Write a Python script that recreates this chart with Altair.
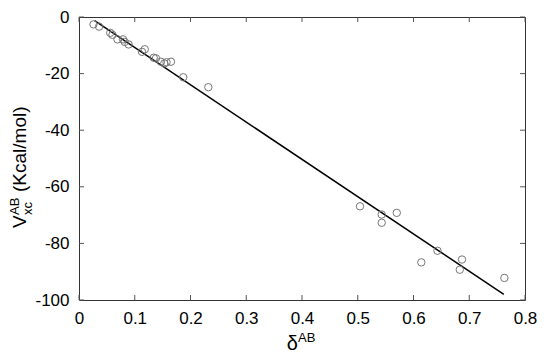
import altair as alt
import pandas as pd

# Scatter data: delta^AB vs V_xc^AB (Kcal/mol)
delta_ab = [0.026, 0.036, 0.056, 0.060, 0.069, 0.079, 0.082, 0.089, 0.113, 0.118,
            0.134, 0.138, 0.147, 0.153, 0.157, 0.165, 0.187, 0.232,
            0.504, 0.543, 0.543, 0.570, 0.614, 0.643, 0.683, 0.687, 0.763]
vxc_ab = [-2.6, -3.4, -5.6, -6.3, -7.9, -7.9, -8.8, -9.7, -12.3, -11.4,
          -14.4, -14.6, -15.8, -16.4, -16.0, -15.8, -21.3, -24.8,
          -66.9, -69.8, -72.7, -69.2, -86.7, -82.6, -89.3, -85.7, -92.2]

# Fitted line endpoints
fit_x = [0.028, 0.762]
fit_y = [-1.3, -98.0]

# Tick values
x_ticks = [0, 0.1, 0.2, 0.3, 0.4, 0.5, 0.6, 0.7, 0.8]
y_ticks = [0, -20, -40, -60, -80, -100]

W, H = 446, 283
FONT = "Liberation Sans"

pts = pd.DataFrame({"d": delta_ab, "v": vxc_ab})
fit = pd.DataFrame({"d": fit_x, "v": fit_y})
xt = pd.DataFrame({"d": x_ticks})
yt = pd.DataFrame({"v": y_ticks})

xscale = alt.Scale(domain=[0, 0.8], nice=False, zero=False)
yscale = alt.Scale(domain=[-100, 0], nice=False, zero=False)

xaxis = alt.Axis(values=x_ticks, format=".1~f", tickSize=0, domain=False, grid=False,
                 labelFont=FONT, labelFontSize=17, labelColor="black", labelPadding=10,
                 labelFlush=False, labelOverlap=False, title=None)
yaxis = alt.Axis(values=y_ticks, labelExpr="datum.value + ''", tickSize=0, domain=False,
                 grid=False, labelFont=FONT, labelFontSize=17, labelColor="black",
                 labelPadding=10, labelOverlap=False, title=None)

scatter = alt.Chart(pts).mark_point(shape="circle", filled=False, color="#777777",
                                    size=55, strokeWidth=1, opacity=1).encode(
    x=alt.X("d:Q", scale=xscale, axis=xaxis),
    y=alt.Y("v:Q", scale=yscale, axis=yaxis),
)

line = alt.Chart(fit).mark_line(color="black", strokeWidth=1.5).encode(
    x=alt.X("d:Q", scale=xscale),
    y=alt.Y("v:Q", scale=yscale),
)

tick_color = "#555555"
bottom_ticks = alt.Chart(xt).mark_rule(color=tick_color, strokeWidth=1).encode(
    x=alt.X("d:Q", scale=xscale), y=alt.value(H), y2=alt.value(H - 5))
top_ticks = alt.Chart(xt).mark_rule(color=tick_color, strokeWidth=1).encode(
    x=alt.X("d:Q", scale=xscale), y=alt.value(0), y2=alt.value(5))
left_ticks = alt.Chart(yt).mark_rule(color=tick_color, strokeWidth=1).encode(
    y=alt.Y("v:Q", scale=yscale), x=alt.value(0), x2=alt.value(5))
right_ticks = alt.Chart(yt).mark_rule(color=tick_color, strokeWidth=1).encode(
    y=alt.Y("v:Q", scale=yscale), x=alt.value(W), x2=alt.value(W - 5))

one = pd.DataFrame({"a": [0]})

def label(text, x, y, size, angle=0, align="left"):
    return alt.Chart(one).mark_text(text=text, font=FONT, fontSize=size, color="black",
                                    align=align, baseline="alphabetic", angle=angle).encode(
        x=alt.value(x), y=alt.value(y))

# x title: delta^AB
xt_main = label("δ", 219, 333, 20, align="right")
xt_sup = label("AB", 219, 325, 13)

# y title: V^AB_xc (Kcal/mol), rotated
yt_v = label("V", -53, 211, 19, angle=270)
yt_sup = label("AB", -60, 198, 13, angle=270)
yt_sub = label("xc", -47, 198, 13, angle=270)
yt_rest = label("(Kcal/mol)", -53, 175, 19, angle=270)

chart = alt.layer(
    line, scatter, bottom_ticks, top_ticks, left_ticks, right_ticks,
    xt_main, xt_sup, yt_v, yt_sup, yt_sub, yt_rest,
).properties(
    width=W, height=H,
    padding={"left": 71, "top": 9, "right": 15, "bottom": 53},
    autosize=alt.AutoSizeParams(type="none"),
).configure_view(stroke="#333333", strokeWidth=1)

chart.save("out.html", embed_options={"renderer": "svg", "actions": False})
